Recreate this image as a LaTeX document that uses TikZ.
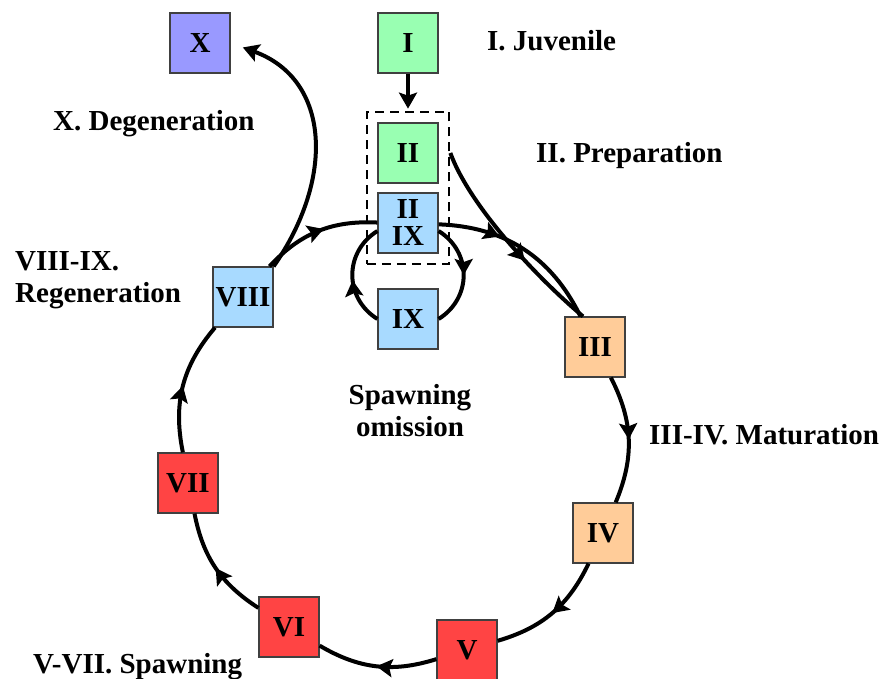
\documentclass[tikz,border=0pt]{standalone}
\usepackage{fontspec}
\setmainfont{Liberation Serif}
\usetikzlibrary{arrows.meta}
\usetikzlibrary{decorations.markings}
\usetikzlibrary{fit}

\definecolor{stagegreen}{RGB}{153,255,178}
\definecolor{stageblue}{RGB}{168,218,255}
\definecolor{stageorange}{RGB}{255,204,153}
\definecolor{stagered}{RGB}{255,68,68}
\definecolor{stagepurple}{RGB}{153,153,255}

\tikzset{stagetip/.tip={Stealth[length=16pt 0,width=18pt 0,inset=3pt]}}

\begin{document}
\begin{tikzpicture}[x=1pt,y=1pt,
  font=\fontsize{29}{32}\selectfont\bfseries,
  stagebox/.style={draw=black!75,line width=1.2pt,minimum width=60pt,minimum height=60pt,inner sep=0pt,align=center},
  lbl/.style={inner sep=0pt,align=left},
  flow/.style={line width=4pt},
  midarrow/.style={flow,postaction={decorate},decoration={markings,mark=at position #1 with {\arrow{stagetip}}}},
  midarrow/.default=0.5,
  dashbox/.style={draw,line width=2.5pt,dash pattern=on 9pt off 6pt,inner sep=10.5pt}]
 \useasboundingbox (0,0) rectangle (884,678);
 \node[stagebox,fill=stagegreen] (I) at (408,635) {I};
 \node[stagebox,fill=stagegreen] (II) at (408,525) {II};
 \node[stagebox,fill=stageblue,font=\fontsize{29}{27}\selectfont\bfseries] (IIIX) at (408,455) {II\\IX};
 \node[stagebox,fill=stageblue] (IX) at (408,359) {IX};
 \node[stagebox,fill=stagepurple] (X) at (200,635) {X};
 \node[stagebox,fill=stageblue] (VIII) at (243,381) {VIII};
 \node[stagebox,fill=stageorange] (III) at (595,331) {III};
 \node[stagebox,fill=stageorange] (IV) at (603,145) {IV};
 \node[stagebox,fill=stagered] (V) at (467,28) {V};
 \node[stagebox,fill=stagered] (VI) at (289,51) {VI};
 \node[stagebox,fill=stagered] (VII) at (188,195) {VII};
 \node[dashbox,fit=(II)(IIIX)] (prep) {};

 \draw[-stagetip,flow,shorten >=2pt] (I) -- (prep);
 \draw[midarrow=0.35] (IIIX) to[bend left=31] (III);
 \draw[midarrow] (III) to[bend left=25] (IV);
 \draw[midarrow] (IV) to[bend left=24] (V);
 \draw[midarrow] (V) to[bend left=24] (VI);
 \draw[midarrow] (VI) to[bend left=23] (VII);
 \draw[midarrow] (VII) to[bend left=26] (VIII);
 \draw[midarrow=0.55] (VIII) to[bend left=25] (IIIX);
 \draw[midarrow] ([yshift=-8pt]IIIX.east) to[bend left=58,looseness=1.15] (IX.east);
 \draw[midarrow=0.45] (IX.west) to[bend left=58,looseness=1.15] ([yshift=-8pt]IIIX.west);
 \draw[midarrow=0.62] (II.east -| prep.east) to[out=-70,in=140,looseness=0.7] ([xshift=-12pt]III.north);
 \draw[-stagetip,flow,shorten >=13pt] (VIII.north east) to[out=55,in=-20,looseness=1.2] (X.east);

 \node[lbl,anchor=base west] (juvenile) at (487,627) {I. Juvenile};
 \node[lbl,anchor=base west] (preparation) at (536,515) {II. Preparation};
 \node[lbl,anchor=base west] (degeneration) at (53,547) {X. Degeneration};
 \node[lbl,anchor=north west] (regeneration) at (15,427) {VIII-IX.\\Regeneration};
 \node[lbl,anchor=north,align=center] (omission) at (410,294) {Spawning\\omission};
 \node[lbl,anchor=base west] (maturation) at (649,233) {III-IV. Maturation};
 \node[lbl,anchor=base west] (spawning) at (33,5) {V-VII. Spawning};
\end{tikzpicture}
\end{document}
